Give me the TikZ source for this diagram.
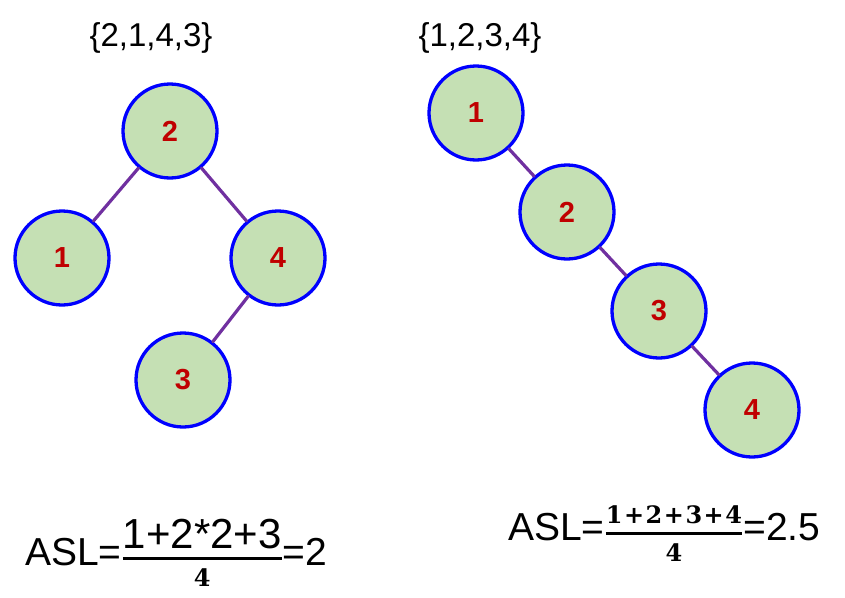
\documentclass[tikz,border=0pt]{standalone}
\usepackage{fontspec}
\setmainfont{Liberation Sans}
\newfontfamily\numserif{DejaVu Serif}
\usetikzlibrary{positioning}

\definecolor{keyfill}{HTML}{C5E0B4}
\definecolor{linkcol}{HTML}{7030A0}
\definecolor{keytext}{HTML}{C00000}
\tikzset{
  keynode/.style={circle, draw=blue, line width=3.3pt, fill=keyfill,
    minimum size=94pt, inner sep=0pt, text=keytext,
    font=\fontsize{29}{29}\selectfont\bfseries},
  link/.style={draw=linkcol, line width=3.2pt},
  seqlabel/.style={font=\fontsize{33}{33}\selectfont, inner sep=0pt},
  asl/.style={font=\fontsize{39}{39}\selectfont, inner sep=0pt}
}
\newcommand{\smallnum}[1]{\mbox{\fontsize{24}{24}\selectfont\numserif\bfseries #1}}
\newcommand{\pl}{\kern1.5pt+\kern1.5pt}

\begin{document}
\begin{tikzpicture}[x=1pt, y=-1pt, line cap=round]
  \useasboundingbox (0,0) rectangle (845,597);

  % Sequences
  \node[seqlabel] (seqA) at (151,38) {\{2,1,4,3\}};
  \node[seqlabel] (seqB) at (480,38) {\{1,2,3,4\}};

  % Tree for {2,1,4,3}
  \node[keynode] (a2) at (170,131) {2};
  \node[keynode] (a1) at (62,258)  {1};
  \node[keynode] (a4) at (278,258) {4};
  \node[keynode] (a3) at (183,380) {3};
  \draw[link] (a2) -- (a1);
  \draw[link] (a2) -- (a4);
  \draw[link] (a4) -- (a3);

  % Tree for {1,2,3,4}
  \node[keynode] (b1) at (476,113) {1};
  \node[keynode] (b2) at (567,212) {2};
  \node[keynode] (b3) at (659,311) {3};
  \node[keynode] (b4) at (752,410) {4};
  \draw[link] (b1) -- (b2);
  \draw[link] (b2) -- (b3);
  \draw[link] (b3) -- (b4);

  % Average search lengths
  \node[asl, anchor=base west] (aslA) at (25,565)
    {ASL=$\displaystyle{\mbox{\fontsize{42}{42}\selectfont 1+2*2+3}\above 2.8pt \smallnum{4}}$=2};
  \node[asl, anchor=base west] (aslB) at (508,540)
    {ASL=$\displaystyle{\smallnum{1\pl 2\pl 3\pl 4}\above 2.8pt \smallnum{4}}$=2.5};
\end{tikzpicture}
\end{document}
